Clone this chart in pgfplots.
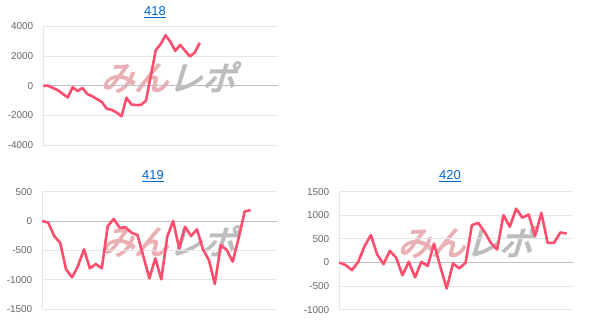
\documentclass[border=0pt]{standalone}
\usepackage{fontspec}
\setmainfont{Liberation Sans}
\newfontfamily\cjk[FakeSlant=0.3,FakeBold=4]{Noto Sans CJK JP}
\usepackage{pgfplots}
\pgfplotsset{compat=1.18}
\definecolor{lineC}{HTML}{FF4D6D}
\definecolor{tickC}{HTML}{666666}
\definecolor{gridC}{HTML}{E6E6E6}
\definecolor{zeroC}{HTML}{BEBEBE}
\definecolor{titleC}{HTML}{0066CC}
\definecolor{wmPink}{HTML}{EAB0B4}
\definecolor{wmGray}{HTML}{BDBDBD}
\pgfplotsset{
  mini/.style={
    scale only axis,
    axis x line=none,
    axis y line*=left,
    y axis line style={draw=gridC, line width=0.8bp},
    ymajorgrids,
    grid style={draw=gridC, line width=0.8bp},
    major tick length=0pt,
    scaled y ticks=false,
    yticklabel style={font=\fontsize{10}{12}\selectfont, text=tickC, xshift=-6.5bp},
    /pgf/number format/assume math mode=true,
    /pgf/number format/1000 sep={},
    xmin=0,
    clip=false,
  },
  ser/.style={draw=lineC, line width=2.6bp, line join=round, mark=none},
}
\newcommand{\wm}{{\cjk\fontsize{34}{34}\selectfont\textcolor{wmPink}{みん}\textcolor{wmGray}{レポ}}}
\begin{document}
\begin{tikzpicture}
\useasboundingbox (0,0) rectangle (603bp,331bp);
% watermarks
\node at (168bp,254bp) {\wm};
\node at (168bp,90bp) {\wm};
\node at (465bp,89bp) {\wm};
% titles
\node[text=titleC, font=\fontsize{13}{15}\selectfont] at (155bp,319bp) {\underline{418}};
\node[text=titleC, font=\fontsize{13}{15}\selectfont] at (153bp,155bp) {\underline{419}};
\node[text=titleC, font=\fontsize{13}{15}\selectfont] at (450bp,155bp) {\underline{420}};

% 418
\begin{axis}[mini, at={(43.3bp,185.7bp)}, anchor=south west,
  width=234.7bp, height=119bp, xmax=48,
  ymin=-4000, ymax=4000, ytick={-4000,-2000,0,2000,4000},
  extra y ticks={0}, extra y tick labels={},
  extra y tick style={grid style={draw=zeroC, line width=0.8bp}}]
\addplot[ser] table[row sep=\\, header=false, x expr=\coordindex, y index=0] {
0\\0\\-150\\-300\\-550\\-780\\-100\\-350\\-150\\-550\\-700\\-900\\-1100\\-1550\\-1620\\-1800\\-2050\\
-800\\-1250\\-1300\\-1280\\-1000\\700\\2400\\2800\\3400\\2950\\2350\\2750\\2350\\1970\\2250\\2900\\};
\end{axis}

% 419
\begin{axis}[mini, at={(42.3bp,22bp)}, anchor=south west,
  width=234.4bp, height=117.3bp, xmax=39.4,
  ymin=-1500, ymax=500, ytick={-1500,-1000,-500,0,500},
  extra y ticks={0}, extra y tick labels={},
  extra y tick style={grid style={draw=zeroC, line width=0.8bp}}]
\addplot[ser] table[row sep=\\, header=false, x expr=\coordindex, y index=0] {
0\\-28\\-256\\-369\\-824\\-960\\-767\\-483\\-807\\-733\\-807\\-85\\34\\-114\\-108\\-199\\-239\\-608\\
-977\\-636\\-994\\-267\\0\\-466\\-97\\-256\\-142\\-483\\-665\\-1074\\-409\\-494\\-693\\-295\\159\\188\\};
\end{axis}

% 420
\begin{axis}[mini, at={(339.3bp,21.3bp)}, anchor=south west,
  width=234bp, height=118bp, xmax=37.06,
  ymin=-1000, ymax=1500, ytick={-1000,-500,0,500,1000,1500},
  extra y ticks={0}, extra y tick labels={},
  extra y tick style={grid style={draw=zeroC, line width=0.8bp}}]
\addplot[ser] table[row sep=\\, header=false, x expr=\coordindex, y index=0] {
0\\-55\\-162\\15\\345\\580\\170\\-35\\245\\105\\-270\\15\\-315\\15\\-75\\400\\-90\\-550\\-20\\
-125\\-5\\790\\840\\650\\415\\275\\1005\\755\\1140\\950\\1015\\560\\1050\\415\\415\\635\\615\\};
\end{axis}
\end{tikzpicture}
\end{document}
